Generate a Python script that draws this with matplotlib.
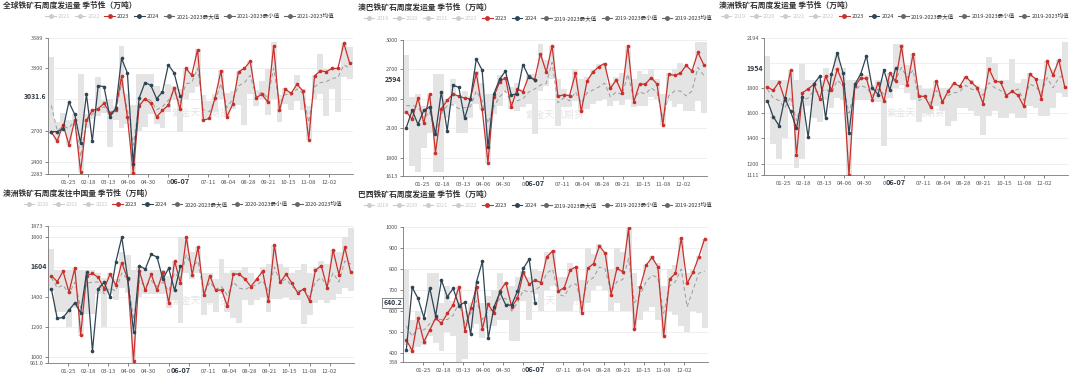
import matplotlib
matplotlib.use("Agg")
import matplotlib.pyplot as plt
from matplotlib.lines import Line2D
import pandas as pd

plt.rcParams['font.family'] = ['Noto Sans CJK SC', 'DejaVu Sans']

# weekly dates (plotted on a single seasonal year)
weeks = pd.date_range("2024-01-05", periods=52, freq="7D")
weeks_2024 = weeks[:23]
tick_dates = pd.date_range("2024-01-25", periods=14, freq="24D")
pointer_date = pd.Timestamp("2024-06-07")

# ---- 全球 ----
glob_2023 = [2684, 2600, 2758, 2565, 2800, 2306, 2800, 2894, 2910, 2961, 2871, 2894, 3220,
             2832, 2290, 2935, 3006, 2961, 2832, 2894, 2942, 3113, 2903, 3297, 3232, 3477,
             2800, 2816, 3016, 3274, 2832, 2952, 3265, 3297, 3365, 3016, 3048, 2974, 3510,
             2894, 3097, 3058, 3145, 3081, 2613, 3226, 3274, 3265, 3297, 3297, 3539, 3348]
glob_2024 = [2690, 2690, 2716, 2974, 2855, 2581, 3048, 2597, 3129, 3123, 2832, 2913, 3394,
             3252, 2381, 3010, 3161, 3135, 3006, 3071, 3332, 3252, 3032]
glob_max = [3410, 2780, 2870, 2800, 2860, 3240, 2860, 2900, 3210, 2990, 3000, 2940, 3516,
            3050, 2950, 3240, 3240, 3240, 3130, 3080, 3150, 3130, 3100, 3300, 3250, 3480,
            3040, 2980, 3050, 3280, 3060, 3080, 3270, 3300, 3370, 3090, 3180, 3290, 3555,
            3040, 3110, 3070, 3230, 3100, 2940, 3230, 3440, 3290, 3300, 3300, 3539, 3500]
glob_min = [2680, 2600, 2700, 2565, 2740, 2306, 2720, 2810, 2840, 2870, 2542, 2800, 2720,
            2760, 2283, 2700, 2730, 2860, 2760, 2720, 2880, 2990, 2684, 3000, 3060, 3120,
            2800, 2816, 2880, 3000, 2832, 2910, 2950, 2750, 3050, 2940, 3000, 2850, 3000,
            2780, 2960, 2900, 2980, 2900, 2613, 3000, 3050, 2840, 3100, 2880, 3210, 3200]
glob_avg = [2940, 2700, 2740, 2720, 2800, 2450, 2790, 2860, 2900, 2930, 2850, 2880, 3150,
            2900, 2560, 2950, 3010, 2990, 2900, 2930, 2990, 3080, 2960, 3150, 3160, 3300,
            2900, 2880, 2990, 3150, 2920, 3000, 3130, 3160, 3230, 3030, 3070, 3010, 3300,
            2960, 3050, 3040, 3100, 3060, 2780, 3120, 3160, 3170, 3200, 3210, 3330, 3300]

# ---- 澳巴 ----
ab_2023 = [2267, 2193, 2407, 2150, 2450, 1850, 2300, 2383, 2450, 2427, 2407, 2400, 2660,
           2300, 1750, 2417, 2573, 2617, 2317, 2500, 2473, 2633, 2593, 2860, 2673, 2940,
           2427, 2440, 2433, 2660, 2273, 2583, 2673, 2727, 2760, 2507, 2593, 2460, 2940,
           2367, 2550, 2550, 2617, 2550, 2133, 2650, 2640, 2660, 2740, 2683, 2873, 2750]
ab_2024 = [2107, 2283, 2140, 2283, 2317, 2040, 2473, 2073, 2540, 2517, 2200, 2400, 2807,
           2693, 1907, 2450, 2600, 2683, 2440, 2450, 2750, 2627, 2594]
ab_max = [2850, 2420, 2450, 2330, 2450, 2650, 2650, 2400, 2600, 2440, 2480, 2430, 2680,
          2560, 2450, 2450, 2640, 2620, 2520, 2560, 2500, 2650, 2650, 2960, 2800, 2940,
          2600, 2500, 2450, 2700, 2600, 2620, 2700, 2760, 2770, 2560, 2620, 2660, 2940,
          2600, 2680, 2650, 2700, 2600, 2450, 2660, 2700, 2770, 2750, 2700, 2975, 2975]
ab_min = [2250, 1720, 1650, 1900, 2050, 1650, 1650, 2200, 2350, 2050, 2050, 2200, 2350,
          2300, 1750, 2250, 2330, 2480, 2300, 2280, 2320, 2350, 2040, 2480, 2530, 2600,
          2120, 2320, 2320, 2380, 2270, 2300, 2350, 2380, 2400, 2330, 2380, 2340, 2400,
          2320, 2330, 2330, 2420, 2400, 2130, 2380, 2320, 2350, 2280, 2280, 2380, 2260]
ab_avg = [2330, 2330, 2320, 2200, 2270, 2020, 2250, 2330, 2340, 2300, 2310, 2320, 2480,
          2380, 2150, 2320, 2420, 2480, 2360, 2380, 2400, 2470, 2500, 2540, 2560, 2770,
          2360, 2410, 2380, 2470, 2360, 2460, 2490, 2520, 2560, 2420, 2470, 2440, 2650,
          2400, 2470, 2450, 2510, 2470, 2200, 2430, 2480, 2480, 2430, 2480, 2720, 2640]

# ---- 澳洲 ----
au_2023 = [1808, 1779, 1845, 1707, 1939, 1267, 1760, 1792, 1827, 1712, 1893, 1781, 1947,
           1832, 1111, 1813, 1875, 1875, 1707, 1840, 1693, 1915, 1853, 2128, 1819, 2067,
           1733, 1733, 1645, 1853, 1685, 1773, 1835, 1813, 1888, 1845, 1800, 1675, 1952,
           1853, 1845, 1739, 1773, 1741, 1653, 1907, 1872, 1715, 2013, 1899, 2021, 1808]
au_2024 = [1699, 1573, 1501, 1720, 1613, 1480, 1728, 1408, 1832, 1893, 1560, 1907, 2075,
           1915, 1440, 1827, 1907, 2053, 1800, 1747, 1941, 1781, 1954]
au_max = [2050, 1860, 1860, 1860, 1939, 1860, 1990, 1860, 1860, 1860, 1960, 1900, 2060,
          1960, 1860, 1860, 1900, 1900, 1820, 1860, 1860, 1920, 2150, 2150, 1980, 2070,
          1820, 1790, 1790, 1853, 1800, 1800, 1840, 1820, 1890, 1860, 1820, 1790, 2040,
          2000, 1860, 1860, 2030, 1840, 1870, 1920, 1880, 1870, 2013, 1950, 2021, 2160]
au_min = [1680, 1360, 1240, 1400, 1660, 1170, 1240, 1660, 1560, 1530, 1700, 1640, 1720,
          1700, 1111, 1700, 1700, 1700, 1700, 1690, 1340, 1720, 1800, 1820, 1760, 1700,
          1530, 1600, 1590, 1660, 1620, 1500, 1540, 1640, 1640, 1620, 1580, 1430, 1580,
          1620, 1560, 1560, 1600, 1560, 1560, 1660, 1640, 1580, 1580, 1640, 1760, 1730]
au_avg = [1790, 1720, 1700, 1640, 1730, 1540, 1700, 1720, 1780, 1760, 1790, 1760, 1860,
          1820, 1600, 1780, 1820, 1800, 1740, 1790, 1750, 1850, 1860, 1960, 1880, 1940,
          1700, 1720, 1680, 1780, 1700, 1740, 1760, 1770, 1820, 1790, 1780, 1740, 1840,
          1800, 1780, 1740, 1770, 1790, 1700, 1830, 1810, 1760, 1880, 1800, 1880, 1900]

# ---- 澳洲发往中国 ----
auc_2023 = [1542, 1503, 1571, 1433, 1592, 1149, 1542, 1557, 1531, 1455, 1553, 1477, 1630,
            1520, 974, 1571, 1444, 1553, 1444, 1564, 1361, 1640, 1492, 1798, 1549, 1732,
            1411, 1542, 1444, 1448, 1339, 1553, 1553, 1520, 1470, 1520, 1571, 1374, 1745,
            1498, 1553, 1492, 1426, 1455, 1374, 1579, 1608, 1461, 1713, 1549, 1732, 1564]
auc_2024 = [1455, 1258, 1264, 1313, 1361, 1295, 1564, 1039, 1455, 1498, 1400, 1636, 1798,
            1527, 1170, 1608, 1586, 1684, 1667, 1520, 1592, 1444, 1604]
auc_max = [1720, 1580, 1580, 1580, 1592, 1580, 1580, 1580, 1560, 1530, 1560, 1520, 1700,
           1680, 1580, 1600, 1580, 1580, 1580, 1580, 1540, 1640, 1800, 1798, 1700, 1732,
           1560, 1560, 1520, 1650, 1560, 1580, 1580, 1600, 1560, 1520, 1600, 1620, 1745,
           1620, 1600, 1560, 1580, 1620, 1560, 1600, 1640, 1620, 1713, 1700, 1800, 1860]
auc_min = [1440, 1300, 1300, 1200, 1330, 1140, 1290, 1290, 1420, 1200, 1420, 1380, 1460,
           1430, 961, 1400, 1420, 1420, 1420, 1420, 1330, 1380, 1230, 1560, 1520, 1560,
           1280, 1360, 1300, 1420, 1300, 1260, 1230, 1380, 1350, 1380, 1400, 1300, 1390,
           1390, 1400, 1380, 1380, 1220, 1280, 1360, 1380, 1360, 1380, 1420, 1460, 1440]
auc_avg = [1530, 1460, 1480, 1420, 1500, 1330, 1490, 1500, 1500, 1420, 1460, 1440, 1560,
           1520, 1250, 1510, 1470, 1510, 1470, 1500, 1440, 1560, 1520, 1680, 1600, 1640,
           1420, 1500, 1450, 1470, 1410, 1500, 1460, 1450, 1470, 1480, 1510, 1440, 1600,
           1500, 1520, 1470, 1440, 1450, 1400, 1500, 1530, 1470, 1560, 1500, 1640, 1620]

# ---- 巴西 ----
br_2023 = [463, 412, 566, 455, 510, 566, 542, 589, 629, 716, 507, 613, 716,
           515, 632, 589, 695, 736, 621, 660, 784, 727, 747, 736, 858, 885,
           695, 711, 795, 811, 593, 803, 826, 910, 874, 679, 803, 787, 995,
           515, 716, 818, 855, 811, 482, 752, 779, 948, 732, 784, 858, 945]
br_2024 = [416, 713, 660, 569, 711, 577, 747, 668, 708, 626, 642, 490, 740,
           837, 471, 621, 689, 629, 629, 695, 803, 847, 640.2]
br_max = [800, 560, 600, 560, 780, 780, 640, 720, 650, 716, 600, 640, 716,
          640, 670, 700, 780, 740, 720, 760, 790, 760, 800, 790, 880, 890,
          760, 760, 830, 811, 750, 900, 870, 920, 880, 800, 900, 880, 1000,
          780, 720, 820, 860, 830, 720, 800, 820, 950, 780, 800, 860, 945]
br_min = [440, 412, 430, 440, 480, 450, 410, 500, 480, 360, 370, 520, 540,
          470, 520, 530, 560, 560, 460, 460, 650, 560, 680, 600, 700, 720,
          600, 600, 600, 650, 593, 640, 700, 720, 700, 600, 640, 600, 600,
          515, 560, 600, 620, 560, 482, 600, 580, 530, 500, 600, 590, 520]
br_avg = [530, 480, 520, 510, 540, 560, 560, 560, 580, 640, 540, 590, 650,
          560, 600, 610, 660, 660, 600, 640, 700, 690, 700, 720, 780, 800,
          680, 670, 720, 730, 640, 740, 760, 810, 800, 690, 740, 750, 850,
          640, 680, 740, 770, 760, 590, 720, 740, 800, 620, 700, 780, 790]

RED = '#c9302c'
DARK = '#2f4554'
FADED = '#cccccc'
MID = '#666666'
W, H = 1080, 375


def draw_panel(rect, title, years, span, d23, d24, dmax, dmin, davg, yticks, ylim, last_txt,
               hidden_tick=None, boxed=False, leg_dx=180):
    x0, y0, x1, y1 = rect
    ax = fig.add_axes([x0 / W, 1 - y1 / H, (x1 - x0) / W, (y1 - y0) / H])

    # min-max range drawn as grey blocks
    hi = [a - b for a, b in zip(dmax, dmin)]
    ax.bar(weeks, hi, bottom=dmin, width=7, color='#e4e4e4', linewidth=0, zorder=1)
    ax.plot(weeks, davg, color='#9a9a9a', lw=0.7, ls=(0, (4, 3)), zorder=2)
    ax.plot(weeks, d23, color=RED, lw=0.9, marker='o', ms=1.6, zorder=4)
    ax.plot(weeks_2024, d24, color=DARK, lw=0.9, marker='o', ms=1.6, zorder=5)

    ax.set_xlim(pd.Timestamp("2024-01-01"), pd.Timestamp("2024-12-31"))
    ax.set_ylim(*ylim)
    ax.set_yticks(yticks)
    ax.set_yticklabels(['' if t == hidden_tick else str(t) for t in yticks])
    # the pointer label sits on top of 05-24 / 06-17, only "0" peeks out
    xlabels = []
    for d in tick_dates:
        s = d.strftime("%m-%d")
        if s == "05-24":
            s = "0"
        elif s == "06-17":
            s = ""
        xlabels.append(s)
    ax.set_xticks(tick_dates)
    ax.set_xticklabels(xlabels)
    ax.tick_params(axis='x', labelsize=4.3, colors='#555555', length=2, width=0.5, pad=2)
    ax.tick_params(axis='y', labelsize=4, colors='#555555', length=2, width=0.5, pad=1.5)
    ax.grid(axis='y', color='#ececec', lw=0.6)
    ax.set_axisbelow(True)
    for s in ['top', 'right']:
        ax.spines[s].set_visible(False)
    for s in ['left', 'bottom']:
        ax.spines[s].set_color('#777777')
        ax.spines[s].set_linewidth(0.6)

    # pointer labels
    box = dict(facecolor='white', edgecolor='#555555' if boxed else 'none', pad=1, lw=0.5)
    ax.text(-0.004, float(last_txt), last_txt, transform=ax.get_yaxis_transform(),
            ha='right', va='center', fontsize=5, fontweight='bold', color='#2f3a45', bbox=box, zorder=10)
    ax.text(pointer_date, -0.03, "06-07", transform=ax.get_xaxis_transform(),
            ha='center', va='top', fontsize=5.3, fontweight='bold', color='#2f3a45',
            zorder=10, clip_on=False)
    ax.text(0.5, 0.45, "紫金天风期货", transform=ax.transAxes, ha='center', va='center',
            fontsize=7, color='#e4e4e4', zorder=3)

    # title and legend
    fig.text((x0 - 45) / W, 1 - (y0 - 33) / H, title, fontsize=5.6, fontweight='bold',
             color='#333333', ha='left', va='center')
    handles, labels, colors = [], [], []
    for yr in years:
        handles.append(Line2D([0], [0], color=FADED, lw=0.8, marker='o', ms=2.5))
        labels.append(yr)
        colors.append('#c8c8c8')
    handles.append(Line2D([0], [0], color=RED, lw=0.8, marker='o', ms=2.5))
    labels.append('2023')
    colors.append('#333333')
    handles.append(Line2D([0], [0], color=DARK, lw=0.8, marker='o', ms=2.5))
    labels.append('2024')
    colors.append('#333333')
    for nm in ['最大值', '最小值', '均值']:
        handles.append(Line2D([0], [0], color=MID, lw=0.8, marker='o', ms=2.5))
        labels.append(span + nm)
        colors.append('#333333')
    leg = fig.legend(handles, labels, loc='center', ncol=len(labels), frameon=False,
                     bbox_to_anchor=((x0 - 45 + leg_dx) / W, 1 - (y0 - 22) / H),
                     fontsize=4.0, handlelength=1.9, handletextpad=0.4, columnspacing=0.8)
    for t, c in zip(leg.get_texts(), colors):
        t.set_color(c)
    return ax


fig = plt.figure(figsize=(10.8, 3.75), dpi=100)

draw_panel((48, 38, 353, 174), "全球铁矿石周度发运量 季节性（万吨）", ['2021', '2022'], '2021-2023',
           glob_2023, glob_2024, glob_max, glob_min, glob_avg,
           [2283, 2400, 2700, 3000, 3300, 3589], (2283, 3589), "3031.6", hidden_tick=3000, leg_dx=187)
draw_panel((403, 40, 707, 176), "澳巴铁矿石周度发运量 季节性（万吨）", ['2019', '2020', '2021', '2022'], '2019-2023',
           ab_2023, ab_2024, ab_max, ab_min, ab_avg,
           [1613, 1800, 2100, 2400, 2700, 3000], (1613, 3000), "2594")
draw_panel((764, 38, 1068, 175), "澳洲铁矿石周度发运量 季节性（万吨）", ['2019', '2020', '2021', '2022'], '2019-2023',
           au_2023, au_2024, au_max, au_min, au_avg,
           [1111, 1200, 1400, 1600, 1800, 2000, 2194], (1111, 2194), "1954", hidden_tick=2000, leg_dx=176)
draw_panel((48, 226, 354, 363), "澳洲铁矿石周度发往中国量 季节性（万吨）", ['2020', '2021', '2022'], '2020-2023',
           auc_2023, auc_2024, auc_max, auc_min, auc_avg,
           [961.0, 1000, 1200, 1400, 1600, 1800, 1873], (961, 1873), "1604", hidden_tick=1600)
draw_panel((403, 227, 708, 362), "巴西铁矿石周度发运量 季节性（万吨）", ['2019', '2020', '2021', '2022'], '2019-2023',
           br_2023, br_2024, br_max, br_min, br_avg,
           [358, 400, 500, 600, 700, 800, 900, 1000], (358, 1000), "640.2", boxed=True)

fig.savefig("out.png", dpi=100)
